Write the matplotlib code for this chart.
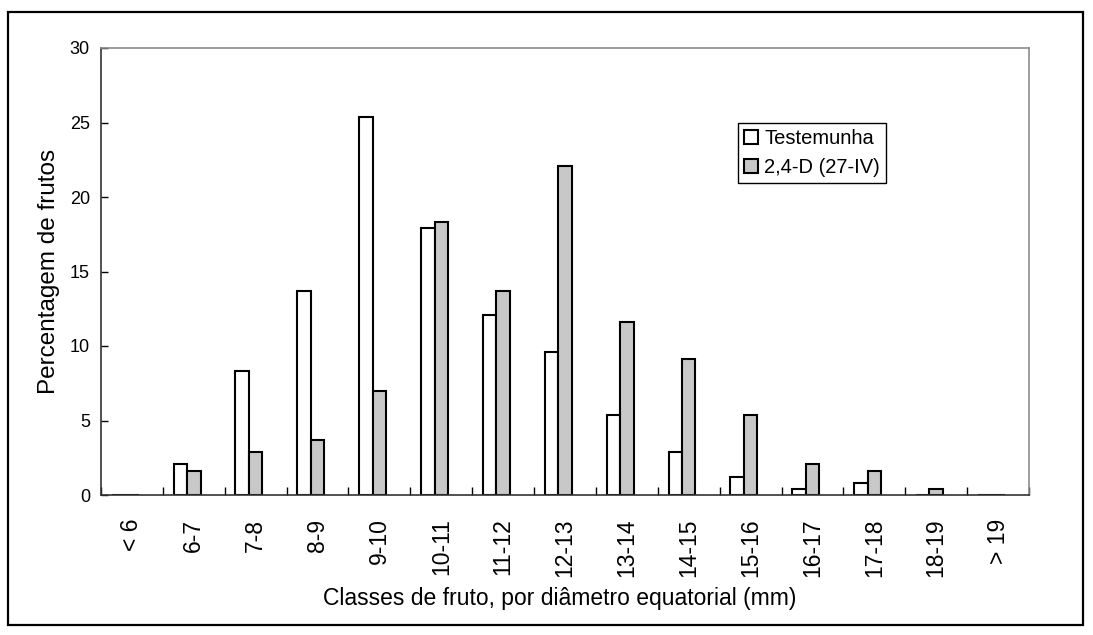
## DISTRIBUICAO DAS CLASSES DE FRUTO POR DIAMETRO EQUATORIAL
import numpy as np
import matplotlib
matplotlib.use('Agg')
import matplotlib.pyplot as plt
from matplotlib.patches import Rectangle

plt.rcParams['font.family'] = ['Liberation Sans', 'DejaVu Sans']

## DADOS:
classes = ['< 6', '6-7', '7-8', '8-9', '9-10', '10-11', '11-12', '12-13',
           '13-14', '14-15', '15-16', '16-17', '17-18', '18-19', '> 19']
testemunha = [0.0, 2.1, 8.3, 13.7, 25.4, 17.9, 12.1, 9.6, 5.4, 2.9, 1.2, 0.4, 0.8, 0.0, 0.0]
tratamento = [0.0, 1.6, 2.9, 3.7, 7.0, 18.3, 13.7, 22.1, 11.6, 9.1, 5.4, 2.1, 1.6, 0.4, 0.0]
y_ticks = [0, 5, 10, 15, 20, 25, 30]

## FIGURA:
W, H = 1093, 635
fig = plt.figure(figsize=(W / 100, H / 100), dpi=100)
ax = fig.add_axes([101 / W, 1 - 495 / H, (1029 - 101) / W, (495 - 48) / H])

# moldura exterior
fig.patches.append(Rectangle((8 / W, 1 - 625 / H), (1083 - 8) / W, (625 - 12) / H,
                             transform=fig.transFigure, fill=False,
                             edgecolor='black', linewidth=1.6))

x = np.arange(len(classes))
w = 0.218  # grupo de 3 series (a terceira vazia)

ax.bar(x - w, testemunha, width=w, color='white', edgecolor='black',
       linewidth=1.5, label='Testemunha')
ax.bar(x, tratamento, width=w, color='#c8c8c8', edgecolor='black',
       linewidth=1.5, label='2,4-D (27-IV)')

ax.set_xlim(-0.5, len(classes) - 0.5)
ax.set_ylim(0, 30)

## EIXOS:
ax.set_yticks(y_ticks)
ax.tick_params(axis='y', direction='in', length=5, width=1, labelsize=13, pad=8)
ax.set_xticks(x)
ax.set_xticklabels(classes, rotation=90, fontsize=16.5)
ax.tick_params(axis='x', length=0, pad=17)
ax.set_xticks(np.arange(len(classes) + 1) - 0.5, minor=True)
ax.tick_params(axis='x', which='minor', direction='in', length=6, width=1)

for s in ['top', 'right']:
    ax.spines[s].set_color('#8c8c8c')
    ax.spines[s].set_linewidth(1.2)
for s in ['left', 'bottom']:
    ax.spines[s].set_color('#333333')
    ax.spines[s].set_linewidth(1.2)

ax.set_ylabel('Percentagem de frutos', fontsize=17.5)
ax.yaxis.set_label_coords(-52 / 928, 0.5)
ax.set_xlabel('Classes de fruto, por diâmetro equatorial (mm)', fontsize=16.5)
ax.xaxis.set_label_coords((560 - 101) / 928, -(598 - 495) / 447)
ax.xaxis.label.set_va('center')
ax.yaxis.label.set_va('center')

## LEGENDA:
leg = ax.legend(loc='upper left', bbox_to_anchor=((738 - 101) / 928, 1 - (123 - 48) / 447),
                fontsize=14.5, frameon=True, fancybox=False, framealpha=1,
                handlelength=0.7, handleheight=0.7, handletextpad=0.3,
                borderpad=0.3, labelspacing=0.5, borderaxespad=0)
leg.get_frame().set_edgecolor('black')
leg.get_frame().set_linewidth(1.0)

fig.savefig('out.png', dpi=100)
